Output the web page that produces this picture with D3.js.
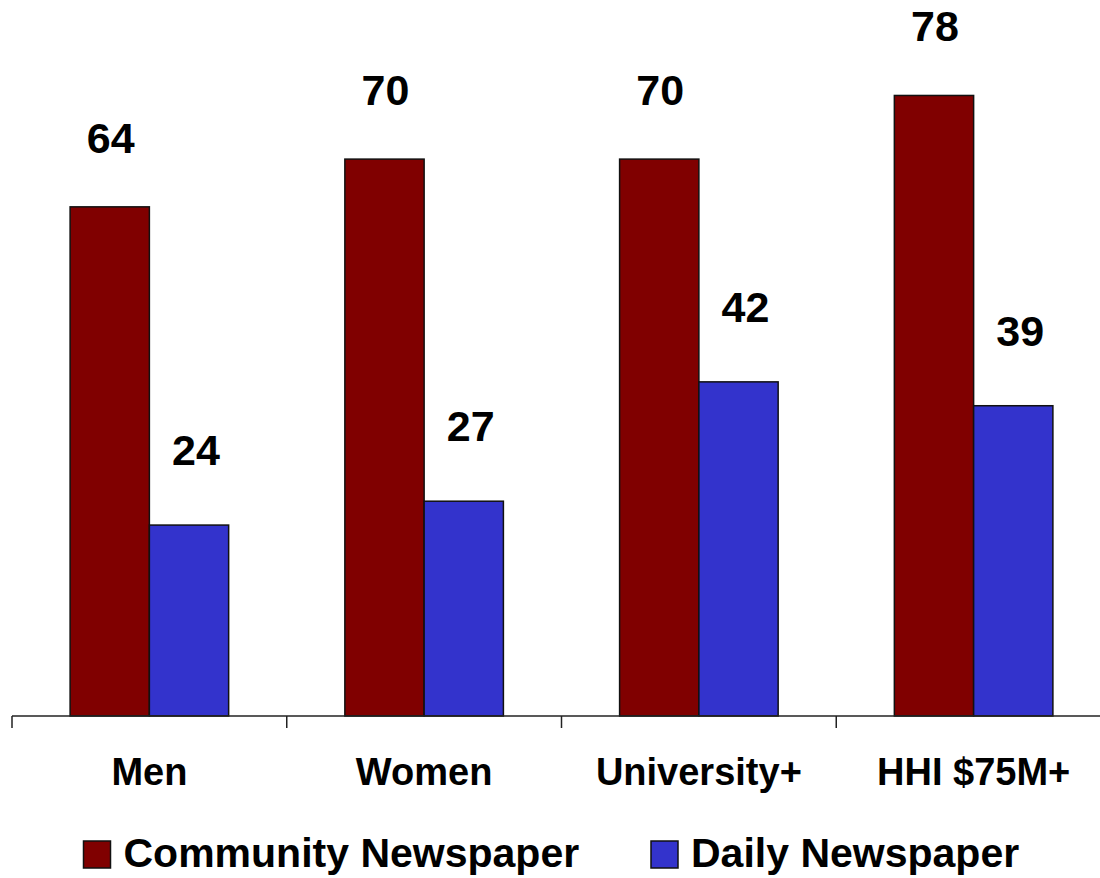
<!DOCTYPE html>
<html>
<head>
<meta charset="utf-8">
<script src="https://cdn.jsdelivr.net/npm/d3@7"></script>
<style>
    html, body { margin: 0; padding: 0; background: #fff; }
    svg { display: block; font-family: "Liberation Sans", Arial, sans-serif; font-weight: bold; }
</style>
</head>
<body>
<div id="chart"></div>
<script>
    "use strict";

    var categories = ['Men', 'Women', 'University+', 'HHI $75M+'];
    var seriesNames = ['Community Newspaper', 'Daily Newspaper'];
    var communityValues = [64, 70, 70, 78];
    var dailyValues = [24, 27, 42, 39];
    var seriesColors = ['#800000', '#3333cc'];

    var svgWidth = 1100, svgHeight = 878;
    var axisY = 716;

    var svg = d3.select('#chart')
        .append('svg')
        .attr('width', svgWidth)
        .attr('height', svgHeight);

    //build rows for grouped bars
    var dataset = categories.map(function (c, i) {
        return { name: c, values: [communityValues[i], dailyValues[i]] };
    });

    //category scale (ticks sit on band edges)
    var x0 = d3.scaleBand()
        .domain(categories)
        .range([12, 1111])
        .padding(0);

    //series scale inside a category
    var x1 = d3.scaleBand()
        .domain(seriesNames)
        .range([0, x0.bandwidth()])
        .paddingInner(0)
        .paddingOuter(0.733);

    var yScale = d3.scaleLinear()
        .domain([0, 90])
        .range([axisY, 0]);

    function rows(d) {
        return d.values.map(function (v, i) { return { s: seriesNames[i], i: i, value: v }; });
    }

    //bars
    var groups = svg.append('g')
        .selectAll('g')
        .data(dataset)
        .enter()
        .append('g')
        .attr('transform', function (d) { return 'translate(' + x0(d.name) + ',0)'; });

    groups.selectAll('rect')
        .data(rows)
        .enter()
        .append('rect')
        .attr('x', function (d) { return x1(d.s); })
        .attr('y', function (d) { return yScale(d.value); })
        .attr('width', x1.bandwidth())
        .attr('height', function (d) { return axisY - yScale(d.value); })
        .attr('fill', function (d) { return seriesColors[d.i]; })
        .attr('stroke', '#111')
        .attr('stroke-width', 1.5);

    //value labels
    var labelDx = [1, 7], labelDy = [54, 60];
    groups.selectAll('text')
        .data(rows)
        .enter()
        .append('text')
        .attr('x', function (d) { return x1(d.s) + x1.bandwidth() / 2 + labelDx[d.i]; })
        .attr('y', function (d) { return yScale(d.value) - labelDy[d.i]; })
        .attr('text-anchor', 'middle')
        .style('font-size', '43px')
        .text(function (d) { return d.value; });

    //x axis
    var axisX = svg.append('g')
        .attr('transform', 'translate(0,' + axisY + ')');

    axisX.append('line')
        .attr('x1', x0.range()[0])
        .attr('x2', x0.range()[1])
        .attr('stroke', '#222')
        .attr('stroke-width', 1.5);

    var tickPos = categories.map(function (c) { return x0(c); }).concat([x0.range()[1]]);
    axisX.selectAll('.tick')
        .data(tickPos)
        .enter()
        .append('line')
        .attr('class', 'tick')
        .attr('x1', function (d) { return d; })
        .attr('x2', function (d) { return d; })
        .attr('y1', 0)
        .attr('y2', 12)
        .attr('stroke', '#222')
        .attr('stroke-width', 1.5);

    axisX.selectAll('.cat')
        .data(categories)
        .enter()
        .append('text')
        .attr('class', 'cat')
        .attr('x', function (d) { return x0(d) + x0.bandwidth() / 2; })
        .attr('y', 69)
        .attr('text-anchor', 'middle')
        .style('font-size', '38px')
        .text(function (d) { return d; });

    //legend
    var legendX = [83.5, 651];
    var legend = svg.append('g')
        .selectAll('g')
        .data(seriesNames)
        .enter()
        .append('g')
        .attr('transform', function (d, i) { return 'translate(' + legendX[i] + ',841)'; });

    legend.append('rect')
        .attr('width', 27)
        .attr('height', 27)
        .attr('fill', function (d, i) { return seriesColors[i]; })
        .attr('stroke', '#111')
        .attr('stroke-width', 1.5);

    legend.append('text')
        .attr('x', 40)
        .attr('y', 26)
        .style('font-size', '41px')
        .text(function (d) { return d; });
</script>
</body>
</html>
